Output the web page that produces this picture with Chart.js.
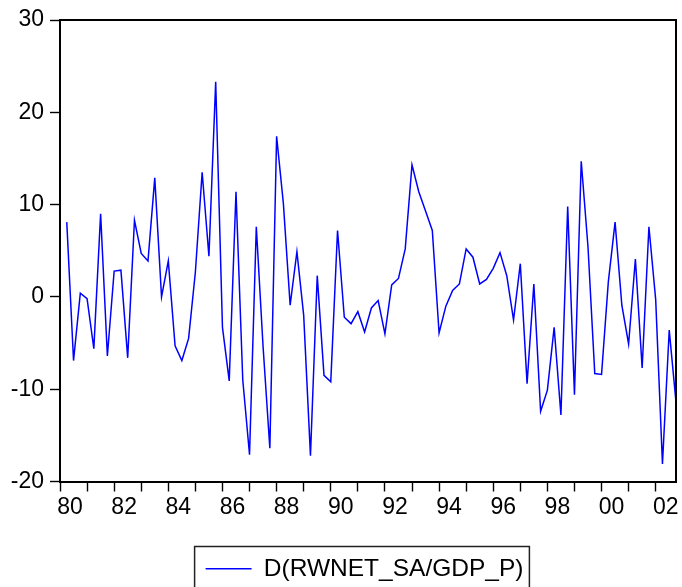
<!DOCTYPE html>
<html>
<head>
<meta charset="utf-8">
<script src="https://cdn.jsdelivr.net/npm/chart.js@4"></script>
<style>
  html, body { margin: 0; padding: 0; background: #ffffff; }
  #wrap { width: 682px; height: 587px; position: relative; }
</style>
</head>
<body>
<div id="wrap"><canvas id="c"></canvas></div>
<script>
// ---- data (quarterly, 1980Q2 .. 2002Q4) ----
const seriesName = 'D(RWNET_SA/GDP_P)';
const firstYear = 1980;          // axis origin = 1980Q1
const firstObsOffset = 1;        // first observation is 1980Q2
const values = [
  8.1, -6.9, 0.4, -0.2, -5.6, 9.0, -6.4, 2.8, 2.9, -6.6,
  8.3, 4.7, 3.9, 12.9, 0.0, 3.9, -5.3, -6.9, -4.5, 2.7,
  13.5, 4.4, 23.3, -3.3, -9.1, 11.4, -9.0, -17.1, 7.6, -5.4,
  -16.4, 17.4, 10.1, -0.9, 4.9, -2.0, -17.2, 2.3, -8.5, -9.2,
  7.2, -2.2, -2.9, -1.6, -3.8, -1.2, -0.4, -4.0, 1.3, 2.0,
  5.2, 14.3, 11.4, 9.3, 7.2, -3.9, -1.0, 0.7, 1.4, 5.2,
  4.3, 1.4, 1.9, 3.1, 4.8, 2.3, -2.5, 3.6, -9.4, 1.4,
  -12.4, -10.1, -3.3, -12.8, 9.8, -10.6, 14.7, 5.4, -8.3, -8.4,
  1.6, 8.1, -0.9, -5.1, 4.1, -7.7, 7.6, -0.3, -18.1, -3.6,
  -11.4
];
const tickYears = [1980,1981,1982,1983,1984,1985,1986,1987,1988,1989,1990,1991,
                   1992,1993,1994,1995,1996,1997,1998,1999,2000,2001,2002];
const xTickLabels = ['80','','82','','84','','86','','88','','90','','92','','94','','96','','98','','00','','02'];
const yTicks = [-20, -10, 0, 10, 20, 30];

// ---- build ----
const points = values.map((v, i) => ({ x: i + firstObsOffset, y: v }));
const lastX = values.length - 1 + firstObsOffset;
const FONT = 'Liberation Sans, Arial, Helvetica, sans-serif';

const framePlugin = {
  id: 'frame',
  afterLayout(chart) {
    const lg = chart.legend;
    if (lg) { lg.top += 4; lg.bottom += 4; lg.left -= 3.5; lg.right -= 3.5; }
  },
  afterDraw(chart) {
    const ctx = chart.ctx;
    const a = chart.chartArea;
    ctx.save();
    ctx.strokeStyle = '#000';
    ctx.lineWidth = 2;
    ctx.beginPath();
    ctx.moveTo(a.left, a.top);
    ctx.lineTo(a.right, a.top);
    ctx.lineTo(a.right, a.bottom);
    ctx.stroke();
    const lg = chart.legend;
    if (lg && lg.legendHitBoxes && lg.legendHitBoxes[0]) {
      const hb = lg.legendHitBoxes[0];
      ctx.lineWidth = 1.5;
      ctx.strokeStyle = '#222';
      ctx.strokeRect(hb.left - 11, hb.top - 10, hb.width + 17, 60);
    }
    ctx.restore();
  }
};

new Chart(document.getElementById('c'), {
  type: 'line',
  data: {
    datasets: [{
      label: seriesName,
      data: points,
      borderColor: '#0000ff',
      backgroundColor: '#0000ff',
      borderWidth: 1.5,
      pointRadius: 0,
      tension: 0,
      fill: false
    }]
  },
  options: {
    responsive: true,
    maintainAspectRatio: false,
    devicePixelRatio: 1,
    animation: false,
    layout: { padding: { top: 20, right: 6, left: 0, bottom: 0 } },
    plugins: {
      tooltip: { enabled: false },
      legend: {
        display: true,
        position: 'bottom',
        fullSize: false,
        labels: {
          usePointStyle: true,
          pointStyle: 'line',
          pointStyleWidth: 46,
          padding: 4,
          color: '#000',
          font: { family: FONT, size: 24.5 }
        }
      }
    },
    scales: {
      x: {
        type: 'linear',
        min: 0,
        max: lastX,
        afterFit(scale) { scale.height = 67; },
        afterBuildTicks(scale) {
          scale.ticks = tickYears.map(y => ({ value: (y - firstYear) * 4 }));
        },
        grid: {
          display: true,
          drawOnChartArea: false,
          drawTicks: true,
          tickLength: 10,
          tickColor: '#000',
          tickWidth: 1.4
        },
        border: { display: true, color: '#000', width: 2 },
        ticks: {
          autoSkip: false,
          maxRotation: 0,
          minRotation: 0,
          labelOffset: 10,
          padding: 2,
          color: '#000',
          font: { family: FONT, size: 23 },
          callback: (v, i) => xTickLabels[i]
        }
      },
      y: {
        type: 'linear',
        min: -20,
        max: 30,
        afterFit(scale) { scale.width = 60; },
        afterBuildTicks(scale) {
          scale.ticks = yTicks.map(v => ({ value: v }));
        },
        grid: {
          display: true,
          drawOnChartArea: false,
          drawTicks: true,
          tickLength: 10,
          tickColor: '#000',
          tickWidth: 1.4
        },
        border: { display: true, color: '#000', width: 2 },
        ticks: {
          padding: 6,
          color: '#000',
          font: { family: FONT, size: 23 },
          callback: (v) => String(v)
        }
      }
    }
  },
  plugins: [framePlugin]
});
</script>
</body>
</html>
